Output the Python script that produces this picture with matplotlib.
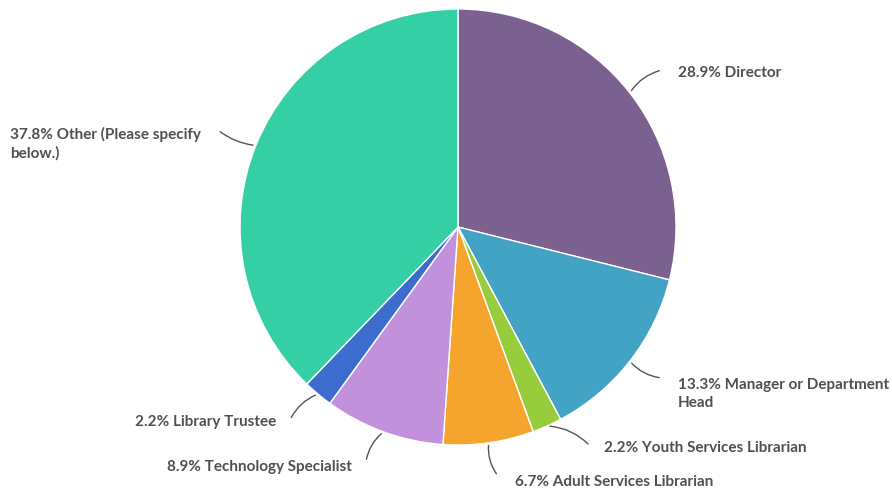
import numpy as np
import matplotlib.pyplot as plt

labels = ["Director", "Manager or Department\nHead", "Youth Services Librarian",
          "Adult Services Librarian", "Technology Specialist", "Library Trustee",
          "Other (Please specify\nbelow.)"]
values = [28.9, 13.3, 2.2, 6.7, 8.9, 2.2, 37.8]
colors = ["#7B618F", "#43A3C4", "#97CC3C", "#F5A52E", "#C191DB", "#3D6CCF", "#34CFA4"]

# label text anchors (pixel coords, y from top) and side
label_pos = [(678, 73, "left"), (678, 394, "left"), (604, 448, "left"),
             (515, 482, "left"), (352, 467, "right"), (276, 422, "right"),
             (10, 144, "left")]
line_end = [(662, 70), (662, 378), (590, 446), (498, 476), (366, 462), (290, 420), (218, 130)]

W, H = 892, 493
fig = plt.figure(figsize=(W / 100, H / 100), dpi=100)
ax = fig.add_axes([0, 0, 1, 1])

cx, cy, r = 458, H - 227, 218
wedges, _ = ax.pie(values, colors=colors, startangle=90, counterclock=False,
                   center=(cx, cy), radius=r,
                   wedgeprops=dict(edgecolor="white", linewidth=1))
ax.set_xlim(0, W)
ax.set_ylim(0, H)
ax.set_aspect("equal")
ax.axis("off")

rads = [0.2, -0.2, 0.2, -0.2, -0.2, -0.2, 0.15]
for i, w in enumerate(wedges):
    ang = np.deg2rad((w.theta1 + w.theta2) / 2)
    px = cx + r * np.cos(ang)
    py = cy + r * np.sin(ang)
    ex, ey = line_end[i]
    ax.annotate("", xy=(px, py), xytext=(ex, H - ey),
                arrowprops=dict(arrowstyle="-", color="#555555", lw=1,
                                connectionstyle="arc3,rad=%s" % rads[i]))
    tx, ty, ha = label_pos[i]
    ax.text(tx, H - ty, "%.1f%% %s" % (values[i], labels[i]), ha=ha, va="center",
            fontsize=11, fontweight="bold", color="#505050", family="Lato",
            linespacing=1.4)

fig.savefig("out.png", dpi=100)
